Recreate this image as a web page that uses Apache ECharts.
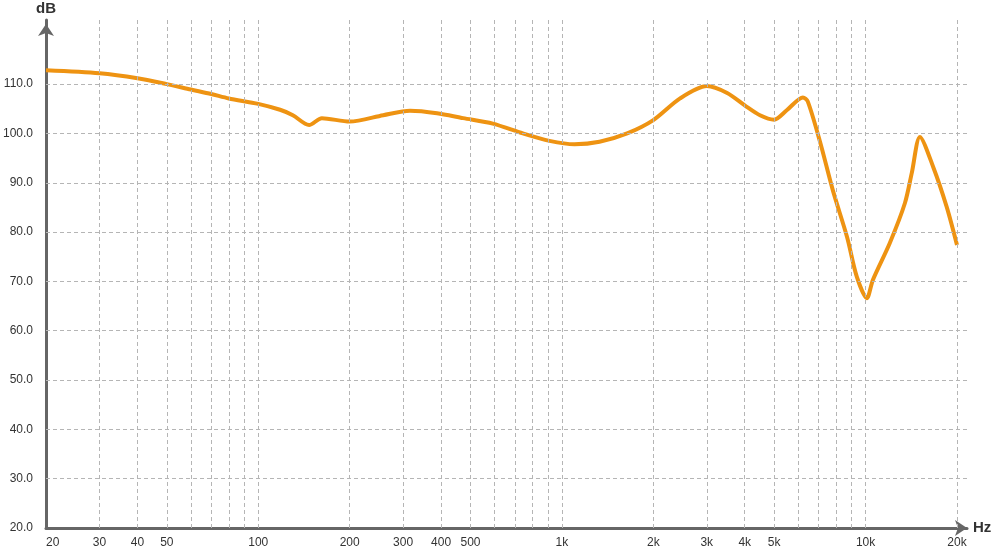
<!DOCTYPE html>
<html>
<head>
<meta charset="utf-8">
<script src="https://cdn.jsdelivr.net/npm/echarts@6/dist/echarts.min.js"></script>
<style>
html,body{margin:0;padding:0;background:#fff;}
#chart{width:992px;height:552px;}
</style>
</head>
<body>
<div id="chart"></div>
<script>
// Frequency (Hz) and level (dB)
var freqs = [20, 30, 40, 50, 60, 70, 80, 100, 118, 130, 147, 162, 200, 258, 316, 388, 473, 592, 744, 910,
  1100, 1330, 1640, 2000, 2450, 3000, 3500, 4000, 4490, 5000, 5500, 6220, 6450, 7080, 7800, 8690, 9360,
  10100, 10570, 12020, 13480, 14200, 15100, 16700, 18500, 20000];
var levels = [112.8, 112.2, 111.2, 110.0, 108.9, 108.0, 107.1, 106.0, 104.8, 103.7, 101.7, 103.1, 102.4, 103.7, 104.6, 104.1, 103.1, 102.0, 100.0, 98.5,
  97.8, 98.3, 100.0, 102.7, 107.1, 109.6, 108.2, 105.7, 103.7, 102.8, 104.7, 107.3, 106.5, 98.3, 88.5, 79.0, 70.9,
  66.6, 70.3, 77.8, 85.9, 92.0, 99.3, 93.2, 85.1, 77.4];

// Axis tick labels and grid positions
var xLabelValues = [20, 30, 40, 50, 100, 200, 300, 400, 500, 1000, 2000, 3000, 4000, 5000, 10000, 20000];
var xGridValues = [30, 40, 50, 60, 70, 80, 90, 100, 200, 300, 400, 500, 600, 700, 800, 900,
  1000, 2000, 3000, 4000, 5000, 6000, 7000, 8000, 9000, 10000, 20000];
var yGridValues = [30, 40, 50, 60, 70, 80, 90, 100, 110];
var yMin = 20, yMax = 123, xMin = 20, xMax = 21580;

var seriesData = freqs.map(function (f, i) { return [f, levels[i]]; });
var gridLineStyle = { color: '#b5b5b5', width: 1, type: [4, 3] };

var chart = echarts.init(document.getElementById('chart'), null, { renderer: 'canvas' });
chart.setOption({
  animation: false,
  backgroundColor: '#ffffff',
  grid: { left: 46, right: 25, top: 20, bottom: 24, containLabel: false, outerBoundsMode: 'none' },
  xAxis: {
    type: 'log', logBase: 10, min: xMin, max: xMax,
    name: 'Hz', nameLocation: 'end', nameGap: 6,
    nameTextStyle: { fontSize: 15, fontWeight: 'bold', color: '#333', fontFamily: 'Liberation Sans, Arial' , verticalAlign: 'middle'},
    axisLine: { show: true, symbol: ['none', 'arrow'], symbolSize: [12, 12], lineStyle: { color: '#666', width: 3 } },
    axisTick: { show: false },
    splitLine: { show: false },
    minorTick: { show: false },
    axisLabel: {
      customValues: xLabelValues,
      alignMinLabel: 'left',
      margin: 9,
      fontSize: 12, color: '#333', fontFamily: 'Liberation Sans, Arial',
      formatter: function (v) { return v >= 1000 ? (v / 1000) + 'k' : String(v); }
    }
  },
  yAxis: {
    type: 'value', min: yMin, max: yMax, interval: 10,
    name: 'dB', nameLocation: 'end', nameGap: 4,
    nameTextStyle: { fontSize: 15, fontWeight: 'bold', color: '#333', fontFamily: 'Liberation Sans, Arial', align: 'center' },
    axisLine: { show: true, symbol: ['none', 'arrow'], symbolSize: [12, 12], symbolOffset: [0, -4], lineStyle: { color: '#666', width: 3 } },
    axisTick: { show: false },
    splitLine: { show: false },
    axisLabel: {
      margin: 13,
      fontSize: 12, color: '#333', fontFamily: 'Liberation Sans, Arial',
      formatter: function (v) { return (v <= 110 && v % 10 === 0) ? v.toFixed(1) : ''; }
    }
  },
  series: [
    {
      type: 'line', data: [], silent: true, z: 1,
      markLine: {
        silent: true, symbol: ['none', 'none'], animation: false,
        label: { show: false }, emphasis: { disabled: true },
        lineStyle: gridLineStyle,
        data: xGridValues.map(function (v) { return { xAxis: v }; })
          .concat(yGridValues.map(function (v) { return { yAxis: v }; }))
      }
    },
    {
      type: 'line', data: seriesData, z: 3,
      smooth: 0.28, showSymbol: false, symbol: 'none',
      lineStyle: { color: '#EE9312', width: 4 },
      itemStyle: { color: '#EE9312' }
    }
  ]
});
</script>
</body>
</html>
